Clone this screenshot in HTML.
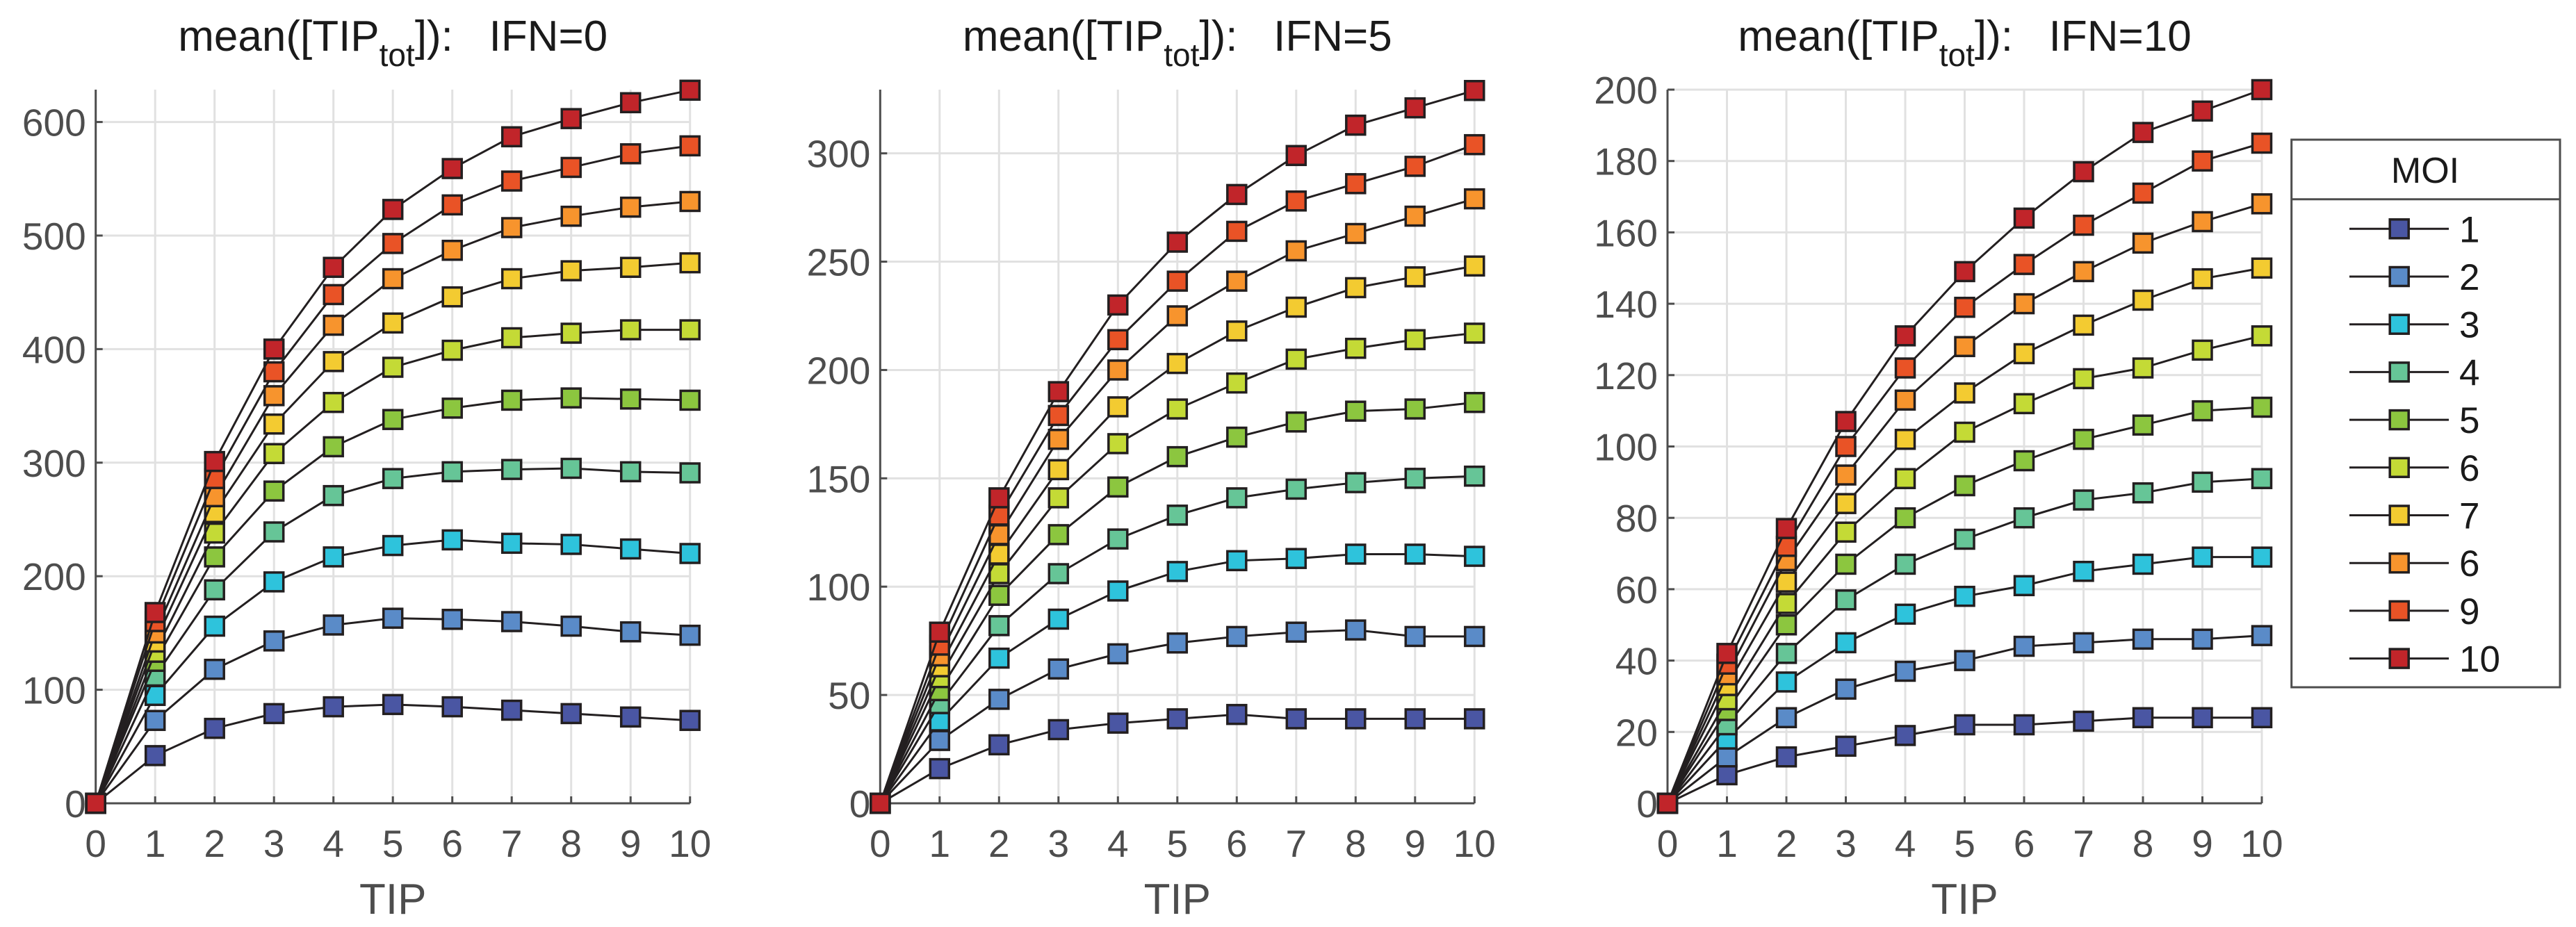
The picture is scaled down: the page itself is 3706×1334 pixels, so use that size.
<!DOCTYPE html>
<html><head><meta charset="utf-8"><style>
html,body{margin:0;padding:0;background:#fff;}
svg{display:block;font-family:"Liberation Sans",Arial,sans-serif;}
</style></head><body>
<svg id="chart" width="3706" height="1334" viewBox="0 0 3706 1334" xmlns="http://www.w3.org/2000/svg"></svg>
<script>
const tipCategories = [0,1,2,3,4,5,6,7,8,9,10];
const moiLabels = ["1","2","3","4","5","6","7","6","9","10"];
const moiColors = ["#4a56a3","#5a8bc8","#2ec3dc","#66c597","#8cc63f","#c4da36","#f3cb31","#f7942d","#e95326","#c1252a"];
const ifnTitles = ["0","5","10"];
const yTicks0 = [0,100,200,300,400,500,600];
const yTicks5 = [0,50,100,150,200,250,300];
const yTicks10 = [0,20,40,60,80,100,120,140,160,180,200];
const yMax = [628.5,329.4,200];
const ifn0 = [
[0,42,66,79,85,87,85,82,79,76,73],
[0,73,118,143,157,163,162,160,156,151,148],
[0,95,156,195,217,227,232,229,228,224,220],
[0,112,188,239,271,286,292,294,295,292,291],
[0,125,217,275,314,338,348,355,357,356,355],
[0,133,238,308,353,384,399,410,414,417,417],
[0,142,256,334,389,423,446,462,469,472,476],
[0,150,270,359,421,462,487,507,517,525,530],
[0,160,286,380,448,493,527,548,560,572,579],
[0,168,301,400,472,523,559,587,603,617,628]];
const ifn5 = [
[0,16,27,34,37,39,41,39,39,39,39],
[0,29,48,62,69,74,77,79,80,77,77],
[0,38,67,85,98,107,112,113,115,115,114],
[0,46,82,106,122,133,141,145,148,150,151],
[0,52,96,124,146,160,169,176,181,182,185],
[0,58,106,141,166,182,194,205,210,214,217],
[0,63,115,154,183,203,218,229,238,243,248],
[0,68,124,168,200,225,241,255,263,271,279],
[0,73,133,179,214,241,264,278,286,294,304],
[0,79,141,190,230,259,281,299,313,321,329]];
const ifn10 = [
[0,8,13,16,19,22,22,23,24,24,24],
[0,13,24,32,37,40,44,45,46,46,47],
[0,18,34,45,53,58,61,65,67,69,69],
[0,22,42,57,67,74,80,85,87,90,91],
[0,26,50,67,80,89,96,102,106,110,111],
[0,29,56,76,91,104,112,119,122,127,131],
[0,33,62,84,102,115,126,134,141,147,150],
[0,36,68,92,113,128,140,149,157,163,168],
[0,39,72,100,122,139,151,162,171,180,185],
[0,42,77,107,131,149,164,177,188,194,200]];

const NS="http://www.w3.org/2000/svg";
const svgRoot=document.getElementById('chart');
function mk(tag,attrs,parent){const e=document.createElementNS(NS,tag);for(const k in attrs)e.setAttribute(k,attrs[k]);(parent||svgRoot).appendChild(e);return e;}

const panelLeft=[137.7,1266.3,2399];
const panelW=855, axTop=129, axBottom=1156;
const allData=[ifn0,ifn5,ifn10];
const allTicks=[yTicks0,yTicks5,yTicks10];

for(let p=0;p<3;p++){
  const L=panelLeft[p];
  const xs=v=>L+v*panelW/10;
  const ys=v=>axBottom-v*(axBottom-axTop)/yMax[p];
  const g=mk('g',{});
  
  
  tipCategories.forEach(c=>{ if(c>0){const l=mk('line',{x1:xs(c),x2:xs(c),y1:axTop,y2:axBottom,stroke:'#e1e1e1','stroke-width':3},g);
    
    }});
  allTicks[p].forEach(t=>{ if(t>0){const l=mk('line',{x1:L,x2:L+panelW,y1:ys(t),y2:ys(t),stroke:'#e1e1e1','stroke-width':3},g);
    
    }});
  const ax=mk('path',{d:`M${L},${axTop}V${axBottom}H${L+panelW}`,stroke:'#4d4d4d','stroke-width':3,fill:'none'},g);
  
  
  tipCategories.forEach(c=>{
    mk('line',{x1:xs(c),x2:xs(c),y1:axBottom,y2:axBottom-10,stroke:'#4d4d4d','stroke-width':3},g);
    const t=mk('text',{x:xs(c),y:1233,'font-size':55,fill:'#4d4d4d','text-anchor':'middle'},g);
    t.textContent=c;
    
    
  });
  allTicks[p].forEach(v=>{
    mk('line',{x1:L,x2:L+10,y1:ys(v),y2:ys(v),stroke:'#4d4d4d','stroke-width':3},g);
    const t=mk('text',{x:L-14,y:ys(v)+20,'font-size':55,fill:'#4d4d4d','text-anchor':'end'},g);
    t.textContent=v;
    
    
  });
  const xl=mk('text',{x:L+panelW/2,y:1315,'font-size':62,fill:'#4d4d4d','text-anchor':'middle'},g);
  xl.textContent='TIP';
  
  
  const ti=mk('text',{x:L+panelW/2,y:73,'font-size':62,fill:'#1a1a1a','text-anchor':'middle'},g);
  
  
  const s1=mk('tspan',{},ti); s1.textContent='mean([TIP';
  const s2=mk('tspan',{dy:22,'font-size':46},ti); s2.textContent='tot';
  const s3=mk('tspan',{dy:-22},ti); s3.textContent=']):\u00a0\u00a0\u00a0IFN='+ifnTitles[p];
  allData[p].forEach((ser,si)=>{
    const sg=mk('g',{},g);
    
    
    const pts=ser.map((v,i)=>xs(tipCategories[i])+','+ys(v)).join(' ');
    const pl=mk('polyline',{points:pts,fill:'none',stroke:'#231f20','stroke-width':3},sg);
    
    
    ser.forEach((v,i)=>{
      const r=mk('rect',{x:xs(tipCategories[i])-13.5,y:ys(v)-13.5,width:27,height:27,fill:moiColors[si],stroke:'#231f20','stroke-width':3.5},sg);
      
      
    });
  });
}
const lg=mk('g',{});


mk('rect',{x:3296.7,y:201,width:386.3,height:788,fill:'#fff',stroke:'#4d4d4d','stroke-width':3},lg);
mk('line',{x1:3296.7,x2:3683,y1:286.7,y2:286.7,stroke:'#4d4d4d','stroke-width':3},lg);
const lt=mk('text',{x:3489,y:263,'font-size':52,fill:'#1a1a1a','text-anchor':'middle'},lg);
lt.textContent='MOI';


moiLabels.forEach((lab,i)=>{
  const y=329.3+i*68.7;
  const eg=mk('g',{},lg);
  
  
  mk('line',{x1:3380,x2:3523,y1:y,y2:y,stroke:'#231f20','stroke-width':3},eg);
  mk('rect',{x:3451.7-13.5,y:y-13.5,width:27,height:27,fill:moiColors[i],stroke:'#231f20','stroke-width':3.5},eg);
  const t=mk('text',{x:3538,y:y+19,'font-size':53,fill:'#1a1a1a'},eg);
  t.textContent=lab;
});
</script>
</body></html>
